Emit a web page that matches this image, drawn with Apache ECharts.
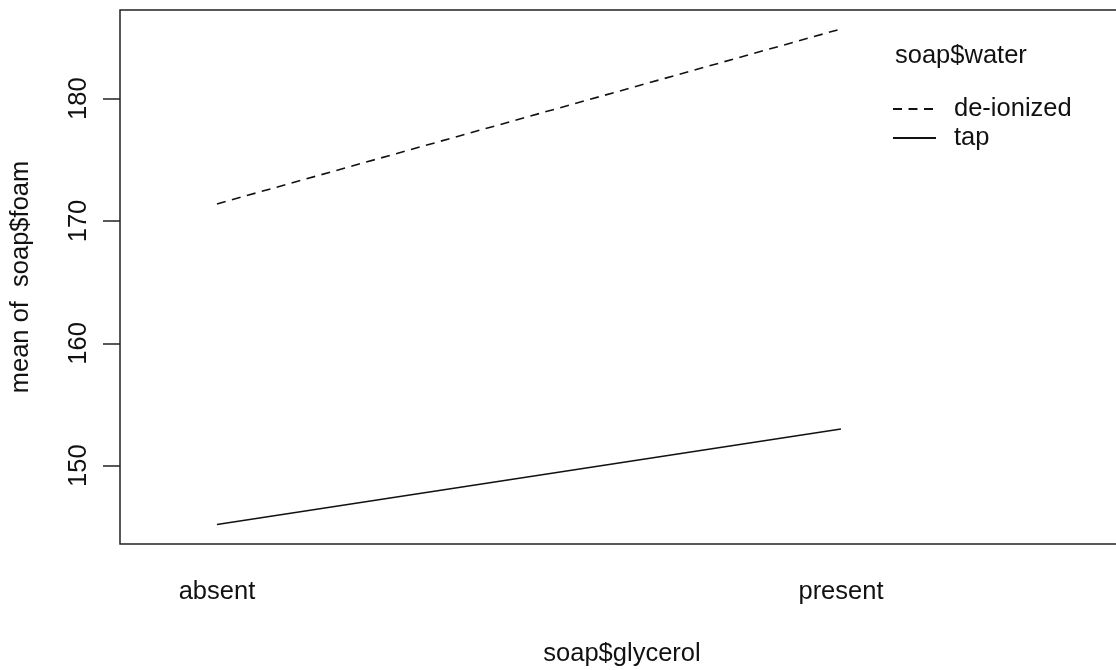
<!DOCTYPE html>
<html>
<head>
<meta charset="utf-8">
<script src="https://cdn.jsdelivr.net/npm/echarts@6/dist/echarts.min.js"></script>
<style>
  html, body { margin: 0; padding: 0; background: #fff; }
  #chart { width: 1116px; height: 670px; }
</style>
</head>
<body>
<div id="chart"></div>
<script>
// Mean foam by glycerol level, one trace per water type
const glycerolLevels = ['absent', 'present'];
const waterTypes = ['de-ionized', 'tap'];
const meanDeionized = [171.4, 185.7];
const meanTap = [145.2, 153.0];
const yTicks = [150, 160, 170, 180];

const FONT = '"Liberation Sans", Arial, sans-serif';
const FS = 25.5;
const INK = '#111';

const chart = echarts.init(document.getElementById('chart'), null, { renderer: 'canvas' });

// factor levels sit at positions 1, 2 on a numeric x scale
const toPoints = vals => vals.map((v, i) => [i + 1, v]);

chart.setOption({
  animation: false,
  backgroundColor: '#fff',
  title: {
    text: 'soap$water',
    left: 890,
    top: 38,
    textStyle: { fontFamily: FONT, fontSize: FS, fontWeight: 'normal', color: INK }
  },
  legend: {
    orient: 'vertical',
    left: 887,
    top: 91,
    itemWidth: 43,
    itemHeight: 14,
    itemGap: 3,
    data: waterTypes,
    itemStyle: { opacity: 0 },
    textStyle: { fontFamily: FONT, fontSize: FS, color: INK, lineHeight: 23, padding: [3, 0, 0, 13] }
  },
  grid: {
    left: 120,
    top: 10,
    width: 1016,
    bottom: 126,
    show: true,
    borderColor: '#222',
    borderWidth: 1.5,
    backgroundColor: 'transparent',
    outerBoundsMode: 'none'
  },
  xAxis: {
    type: 'value',
    min: 0.8446,
    max: 2.4728,
    name: 'soap$glycerol',
    nameLocation: 'middle',
    nameGap: 97,
    nameTextStyle: { fontFamily: FONT, fontSize: FS, color: INK, padding: [0, 12, 0, 0] },
    axisLine: { show: false },
    axisTick: { show: false },
    splitLine: { show: false },
    axisLabel: {
      customValues: [1, 2],
      formatter: v => glycerolLevels[Math.round(v) - 1] || '',
      margin: 35,
      fontFamily: FONT,
      fontSize: FS,
      color: INK
    }
  },
  yAxis: {
    type: 'value',
    min: 143.6,
    max: 187.25,
    name: 'mean of  soap$foam',
    nameLocation: 'middle',
    nameRotate: 90,
    nameGap: 86,
    nameTextStyle: { fontFamily: FONT, fontSize: FS, color: INK },
    axisLine: { show: false },
    splitLine: { show: false },
    axisTick: {
      show: true,
      customValues: yTicks,
      length: 17,
      lineStyle: { color: '#222', width: 1.5 }
    },
    axisLabel: {
      customValues: yTicks,
      rotate: 90,
      margin: 28,
      fontFamily: FONT,
      fontSize: FS,
      color: INK
    }
  },
  series: [
    {
      name: waterTypes[0],
      type: 'line',
      data: toPoints(meanDeionized),
      symbol: 'none',
      lineStyle: { color: INK, width: 1.6, type: [9, 6.5] },
      itemStyle: { color: INK }
    },
    {
      name: waterTypes[1],
      type: 'line',
      data: toPoints(meanTap),
      symbol: 'none',
      lineStyle: { color: INK, width: 1.6, type: 'solid' },
      itemStyle: { color: INK }
    }
  ]
});
</script>
</body>
</html>
